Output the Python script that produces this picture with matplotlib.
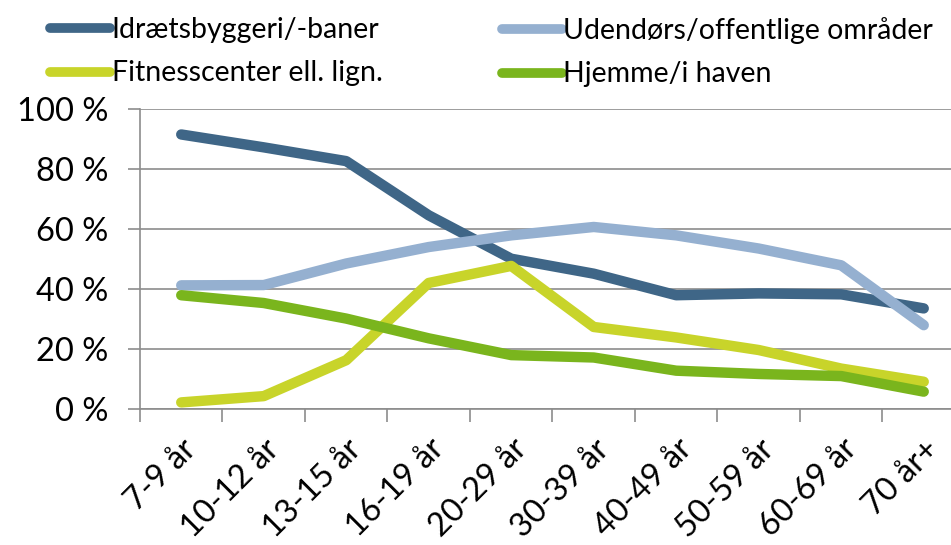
import numpy as np
import matplotlib
matplotlib.use("Agg")
import matplotlib.pyplot as plt
from matplotlib.ticker import FuncFormatter

plt.rcParams['font.family'] = ['Lato', 'DejaVu Sans']

# Age groups and share (%) per place of activity
age_groups = ['7-9 år', '10-12 år', '13-15 år', '16-19 år', '20-29 år',
              '30-39 år', '40-49 år', '50-59 år', '60-69 år', '70 år+']
idraet = [91.6, 87.3, 82.7, 64.6, 50.1, 45.1, 37.9, 38.5, 38.2, 33.5]
udendors = [41.2, 41.3, 48.5, 54.0, 57.9, 60.7, 57.9, 53.5, 47.9, 27.9]
fitness = [2.1, 4.2, 16.2, 42.0, 47.7, 27.3, 23.8, 19.6, 13.4, 9.0]
hjemme = [37.9, 35.3, 30.1, 23.5, 17.9, 17.1, 12.7, 11.6, 10.9, 5.7]

series = [
    ('Idrætsbyggeri/-baner', idraet, '#3f6687'),
    ('Udendørs/offentlige områder', udendors, '#95b0d0'),
    ('Fitnesscenter ell. lign.', fitness, '#c8d42a'),
    ('Hjemme/i haven', hjemme, '#7ab51d'),
]

fig = plt.figure(figsize=(9.51, 5.45), dpi=100)
ax = fig.add_axes([0.1472, 0.2501, 0.8675, 0.5493])

x = np.arange(len(age_groups))
handles = []
for name, vals, col in series:
    ln, = ax.plot(x, vals, color=col, lw=7.5, solid_capstyle='round',
                  solid_joinstyle='round', label=name, zorder=3)
    handles.append(ln)

ax.set_ylim(0, 100)
ax.set_xlim(-0.5, len(age_groups) - 0.5)
ax.set_yticks(np.arange(0, 101, 20))
ax.yaxis.set_major_formatter(FuncFormatter(lambda v, p: f'{int(v)} %'))
ax.grid(axis='y', color='#8c8c8c', lw=1.2, zorder=0)
ax.set_axisbelow(True)

ax.set_xticks(x)
ax.set_xticklabels(age_groups, rotation=45, ha='right', rotation_mode='anchor')
ax.set_xticks(np.arange(-0.5, len(age_groups)), minor=True)
ax.tick_params(axis='x', which='major', length=0, labelsize=23.5, pad=18)
ax.tick_params(axis='x', which='minor', length=9, color='#8c8c8c', width=1.2)
ax.tick_params(axis='y', length=9, color='#8c8c8c', width=1.2, labelsize=23.5, pad=14)

for s in ['top', 'right']:
    ax.spines[s].set_visible(False)
for s in ['left', 'bottom']:
    ax.spines[s].set_color('#8c8c8c')
    ax.spines[s].set_linewidth(1.2)

# two legend columns placed separately
for cols, x0 in [((0, 2), 0.041), ((1, 3), 0.516)]:
    leg = fig.legend([handles[i] for i in cols], [series[i][0] for i in cols],
                     loc='upper left', bbox_to_anchor=(x0, 0.99),
                     frameon=False, fontsize=20.5, handlelength=2.1,
                     handletextpad=0.05, labelspacing=0.62,
                     borderaxespad=0.0)
    for line in leg.get_lines():
        line.set_linewidth(7)
        line.set_solid_capstyle('round')

fig.savefig('out.png', dpi=100)
